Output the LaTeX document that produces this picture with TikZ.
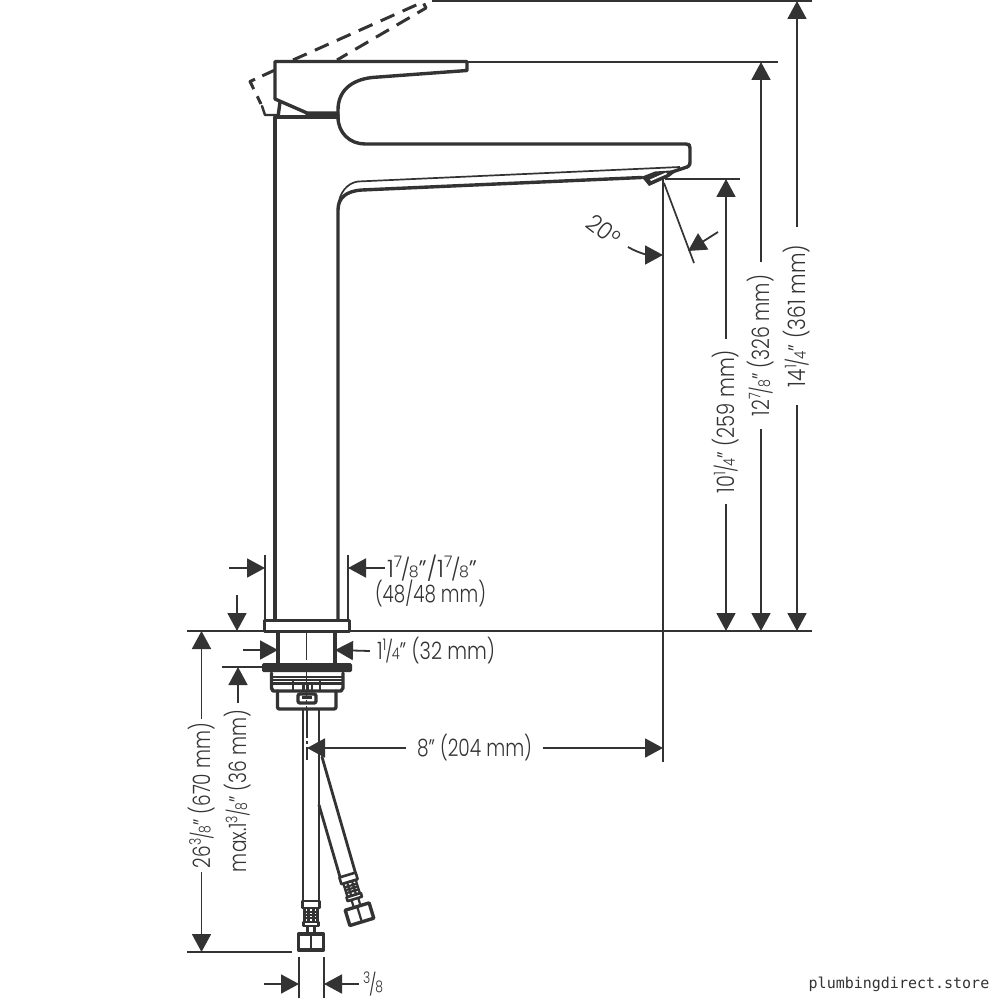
\documentclass[tikz,border=0pt]{standalone}
\usepackage{fontspec}
\usepackage{graphicx}
\usetikzlibrary{arrows.meta}
\setmainfont{Poppins}[UprightFont=* Light]
\newfontfamily\wmfont{DejaVu Sans Mono}
\definecolor{ink}{HTML}{333333}
\newcommand{\frc}[2]{\raisebox{.40em}{\fontsize{14}{14}\selectfont #1}\kern-.06em{\fontsize{19}{19}\selectfont /}\kern-.06em{\fontsize{14}{14}\selectfont #2}}
\newcommand{\fitw}[2]{\resizebox{#1pt}{1.14\height}{#2}}
\tikzset{
  thick line/.style={line width=3.4pt,draw=ink,line join=round,line cap=round},
  mid line/.style={line width=2.2pt,draw=ink,line join=round},
  thin line/.style={line width=1.7pt,draw=ink},
  dim/.style={line width=1.8pt,draw=ink,-{Triangle[width=19pt,length=18pt,fill=ink]}},
  dimlabel/.style={text=ink,font=\fontsize{21}{26}\selectfont,inner ysep=0pt},
  fitting/.pic={
    \draw[thick line,line width=2.6pt] (-8.5,0) rectangle (8.5,7);
    \draw[mid line] (-6.5,7) rectangle (6.5,21);
    \draw[mid line] (-2.5,7) -- (-2.5,21) (2.5,7) -- (2.5,21) (-6.5,11) -- (6.5,11) (-6.5,14) -- (6.5,14) (-6.5,17) -- (6.5,17);
    \draw[thick line,line width=2.6pt] (-7.5,21) rectangle (7.5,25);
    \draw[mid line] (-3.5,25) -- (-3.5,33) (3.5,25) -- (3.5,33);
    \draw[thick line] (-12.5,33) rectangle (12.5,49);
    \draw[mid line] (0,33) -- (0,49);
  }
}
\begin{document}
\begin{tikzpicture}[x=1pt,y=-1pt]
\useasboundingbox (0,0) rectangle (1000,1000);
% labels
\node[dimlabel,rotate=90,inner xsep=18pt] (h14) at (797,316) {\fitw{142}{14\frc{1}{4}" (361 mm)}};
\node[dimlabel,rotate=90,inner xsep=13pt] (h12) at (761,345.5) {\fitw{141}{12\frc{7}{8}" (326 mm)}};
\node[dimlabel,rotate=90,inner xsep=11pt] (h10) at (726,421.5) {\fitw{143}{10\frc{1}{4}" (259 mm)}};
\node[dimlabel,rotate=90,inner xsep=4pt] (h26) at (201.5,795.5) {\fitw{145}{26\frc{3}{8}" (670 mm)}};
\node[dimlabel,rotate=90,inner xsep=7pt] (hmax) at (238,791) {\fitw{162}{max.1\frc{3}{8}" (36 mm)}};
\node[dimlabel,inner xsep=2pt] (w48) at (432,568) {\fitw{90}{1\frc{7}{8}"/1\frc{7}{8}"}};
\node[dimlabel,inner xsep=0pt] (w48b) at (430.5,593) {\fitw{111}{(48/48 mm)}};
\node[dimlabel,inner xsep=7pt] (w32) at (436,651) {\fitw{118}{1\frc{1}{4}" (32 mm)}};
\node[dimlabel,inner xsep=10.5pt] (w8) at (474.5,748) {\fitw{115}{8" (204 mm)}};
\node[dimlabel,inner xsep=4pt] (w38) at (373,984) {\fitw{20}{\frc{3}{8}}};
\node[dimlabel,rotate=-38,inner sep=0pt] (ang) at (604,230) {\resizebox{35pt}{1.14\height}{20°}};
\node[text=ink,font=\wmfont\fontsize{15}{18}\selectfont,inner sep=0pt] (wm) at (899,984) {plumbingdirect.store};
% body and handle
\draw[thick line] (275,620) -- (275,117) -- (338,117);
\draw[thick line] (275,99) -- (275,61.5) -- (467,61.5) -- (467,70.5) -- (372,77.5) .. controls (350,80) and (338,92) .. (338,110) -- (338,117);
\draw[thick line] (275,99) -- (307,113) -- (338,113);
\draw[thick line] (307,115) -- (338,115);
\draw[thick line] (280,102) -- (278,117);
\draw[thick line] (338,117) .. controls (338,133) and (350,144) .. (365,144) -- (686,144) .. controls (689,144) and (690,145) .. (690,148) -- (690,162) .. controls (690,166) and (688,167) .. (684,168) -- (672,172);
\draw[thick line] (338,620) -- (338,210) .. controls (338,198) and (346,191) .. (362,190) -- (642,177.5);
\draw[thin line] (338,207) .. controls (339,193) and (347,183) .. (358,181.5) -- (680,167);
% dashed handle position
\draw[thick line,line width=3pt,line cap=butt,dash pattern=on 14pt off 8pt] (275,70) -- (250,81.5) -- (261,104);
\draw[thick line,line width=3pt,line cap=butt,dash pattern=on 15pt off 9pt] (293,60) -- (423,2) -- (426,8) -- (337,60);
\draw[thick line,line width=2.4pt] (262,106) -- (265,115) -- (278,115);
% aerator
\fill[ink] (641,177) -- (655,171.5) -- (678,170) -- (669,177) -- (649,186) -- (645,181) -- cycle;
\fill[white] (650,179.5) -- (666,172.5) -- (667,174) -- (651,181) -- cycle;
% base
\draw[thick line,line width=3pt] (264,620) rectangle (349,631);
\draw[thick line] (278,632) -- (278,664) (335,632) -- (335,664);
\fill[ink,rounded corners=1.5pt] (262,663) rectangle (352,672);
\draw[thick line] (271.5,673) -- (271.5,688) -- (273,691) -- (341,691) -- (343,688) -- (343,673);
\draw[mid line] (272,677) -- (343,677) (272,680) -- (343,680);
\draw[thick line,line width=2.4pt] (272,683.5) -- (343,683.5);
\draw[mid line] (293,680) -- (293,690) (320,680) -- (320,690);
\draw[mid line] (303.5,684) rectangle (312,691);
\draw[mid line] (307.5,684) -- (307.5,691);
\draw[thick line,rounded corners=2pt] (298,694) rectangle (316,703);
\fill[ink] (302,696) rectangle (312,699);
\draw[thick line,rounded corners=2pt] (277.5,691) -- (277.5,709) -- (336,709) -- (336,691);
\draw[line width=1.2pt,draw=ink,dash pattern=on 28pt off 3pt on 3pt off 3pt] (306.5,632) -- (306.5,708);
% pipes
\draw[thick line,line width=2.8pt] (303,710) -- (303,901);
\draw[thick line,line width=2.8pt] (319,710) -- (319,901);
\draw[line width=1.2pt,draw=ink,dash pattern=on 28pt off 3pt on 3pt off 3pt] (307,710) -- (307,760);
\draw[thick line,line width=2.8pt] (322,757) -- (355.5,873);
\draw[thick line,line width=2.8pt] (319,805) -- (340,877);
\pic at (311,901) {fitting};
\pic[rotate=17] at (347.5,875) {fitting};
% extension lines
\draw[thin line] (432,1) -- (812,1);
\draw[thin line] (468,62) -- (778,62);
\draw[thin line] (665,179) -- (740,179);
\draw[thin line] (187,631) -- (812,631);
\draw[thin line] (265,555) -- (265,620);
\draw[thin line] (348,555) -- (348,620);
\draw[thin line] (222,667) -- (262,667);
\draw[thin line] (187,952) -- (292,952);
\draw[thin line] (299,957) -- (299,998);
\draw[thin line] (324,957) -- (324,998);
\draw[thin line] (664,183) -- (694,263);
% dimensions
\draw[dim] (h14.east) -- (797,1);
\draw[dim] (h14.west) -- (797,631);
\draw[dim] (h12.east) -- (761,62);
\draw[dim] (h12.west) -- (761,631);
\draw[dim] (h10.east) -- (726,179);
\draw[dim] (h10.west) -- (726,631);
\draw[dim] (h26.east) -- (201.5,631);
\draw[dim] (h26.west) -- (201.5,952);
\draw[dim] (hmax.east) -- (238,667);
\draw[dim] (229,568) -- (265,568);
\draw[dim] (w48.west) -- (348,568);
\draw[dim] (237,595) -- (237,631);
\draw[dim] (243,650) -- (278,650);
\draw[dim] (w32.west) -- (335,650);
\draw[dim] (w8.west) -- (307,748);
\draw[dim] (w8.east) -- (663,748);
\draw[thin line] (663,179) -- (663,762);
\draw[dim] (264,984) -- (299,984);
\draw[dim] (w38.west) -- (324,984);
\draw[dim] (628,247) .. controls (640,254) and (650,255) .. (663,255);
\draw[dim] (718,232) -- (688,251);
\end{tikzpicture}
\end{document}
